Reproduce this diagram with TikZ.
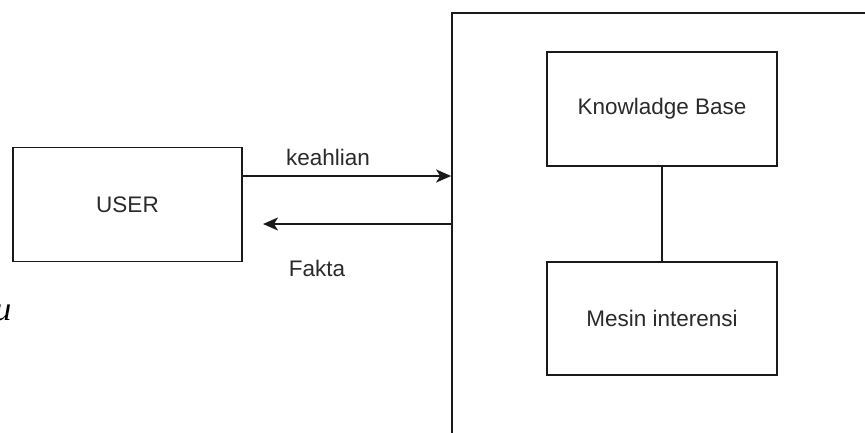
\documentclass[tikz,border=0pt]{standalone}
\usepackage{fontspec}
\setmainfont{Liberation Sans}
\newfontfamily\serifit{Liberation Serif}
\usetikzlibrary{arrows.meta}
\definecolor{txt}{HTML}{2A2A2A}
\definecolor{ln}{HTML}{1A1A1A}
\begin{document}
\begin{tikzpicture}[x=1pt,y=-1pt,
  box/.style={draw=ln,line width=1.7pt,rectangle,inner sep=0pt,text=txt,font=\fontsize{22.5}{25}\selectfont},
  lbl/.style={text=txt,font=\fontsize{22.5}{25}\selectfont,inner sep=0pt},
  arr/.style={draw=ln,line width=1.8pt,-{Stealth[length=15pt,width=13pt,inset=4pt]}}]
\useasboundingbox (0,0) rectangle (865,432);
\clip (0,0) rectangle (865,432);
\node[box,minimum width=229pt,minimum height=114pt] (user) at (127.5,204.5) {USER};
\node[box,minimum width=440pt,minimum height=440pt] (sys) at (672,233) {};
\node[box,minimum width=230pt,minimum height=114pt] (kb) at (662,109) {Knowladge Base};
\node[box,minimum width=230pt,minimum height=113pt] (mi) at (662,318.5) {Mesin interensi};
\coordinate (a1) at (242,176);
\coordinate (a2) at (263,224);
\draw[arr] (a1) -- (sys.west |- a1);
\draw[arr] (sys.west |- a2) -- (a2);
\draw[draw=ln,line width=1.6pt] (kb) -- (mi);
\node[lbl] (l1) at (328,157) {keahlian};
\node[lbl] (l2) at (317,268) {Fakta};
\node[inner sep=0pt,text=black,font=\serifit\itshape\fontsize{34}{36}\selectfont] (u) at (3,313) {u};
\end{tikzpicture}
\end{document}
